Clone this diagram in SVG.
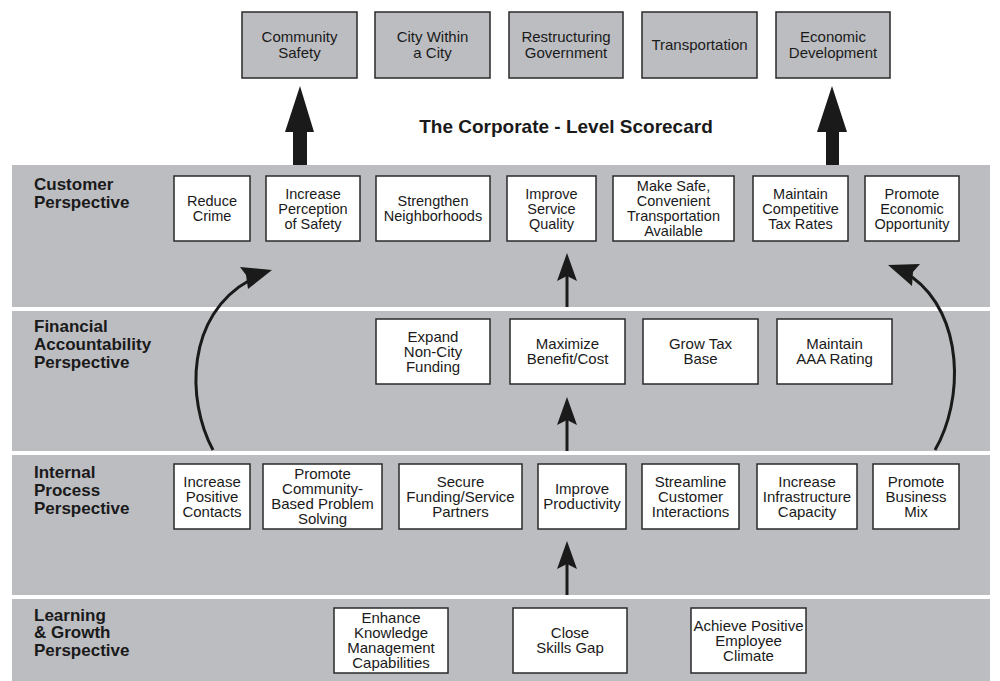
<svg xmlns="http://www.w3.org/2000/svg" width="1000" height="681" viewBox="0 0 1000 681">
<style>
.band{fill:#bcbdc1}
.box{fill:#fff;stroke:#2a2a2a;stroke-width:1.5}
.gbox{fill:#bcbdc1;stroke:#2a2a2a;stroke-width:1.5}
.t{font-family:"Liberation Sans",Arial,sans-serif;font-size:14.5px;fill:#1a1a1a;text-anchor:middle}
.t2{font-family:"Liberation Sans",Arial,sans-serif;font-size:15px;fill:#1a1a1a;text-anchor:middle}
.tt{font-family:"Liberation Sans",Arial,sans-serif;font-size:15px;fill:#1a1a1a;text-anchor:middle}
.lbl{font-family:"Liberation Sans",Arial,sans-serif;font-size:17px;font-weight:bold;fill:#1a1a1a}
.title{font-family:"Liberation Sans",Arial,sans-serif;font-size:19px;font-weight:bold;fill:#1a1a1a;text-anchor:middle}
.curve{fill:none;stroke:#1a1a1a;stroke-width:3}
.shaft{stroke:#1a1a1a;stroke-width:3}
.head{fill:#1a1a1a}
</style>
<rect width="1000" height="681" fill="#fff"/>
<g id="bands">
<rect class="band" x="12" y="165" width="978" height="142"/>
<rect class="band" x="12" y="311" width="978" height="140"/>
<rect class="band" x="12" y="455" width="978" height="140"/>
<rect class="band" x="12" y="599" width="978" height="82"/>
</g>
<g id="labels">
<text class="lbl" x="34"><tspan x="34" y="190">Customer</tspan><tspan x="34" y="208">Perspective</tspan></text>
<text class="lbl" x="34"><tspan x="34" y="332">Financial</tspan><tspan x="34" y="350">Accountability</tspan><tspan x="34" y="368">Perspective</tspan></text>
<text class="lbl" x="34"><tspan x="34" y="478">Internal</tspan><tspan x="34" y="496">Process</tspan><tspan x="34" y="514">Perspective</tspan></text>
<text class="lbl" x="34"><tspan x="34" y="621">Learning</tspan><tspan x="34" y="638">&amp; Growth</tspan><tspan x="34" y="656">Perspective</tspan></text>
</g>
<text class="title" x="566" y="133">The Corporate - Level Scorecard</text>
<g id="top-nodes">
<g id="n-community-safety"><rect class="gbox" x="242" y="12" width="115" height="66"/><text class="tt"><tspan x="299.5" y="42">Community</tspan><tspan x="299.5" y="58">Safety</tspan></text></g>
<g id="n-city-within"><rect class="gbox" x="375" y="12" width="115" height="66"/><text class="tt"><tspan x="432.5" y="42">City Within</tspan><tspan x="432.5" y="58">a City</tspan></text></g>
<g id="n-restructuring"><rect class="gbox" x="509" y="12" width="114" height="66"/><text class="tt"><tspan x="566" y="42">Restructuring</tspan><tspan x="566" y="58">Government</tspan></text></g>
<g id="n-transportation"><rect class="gbox" x="642" y="12" width="115" height="66"/><text class="tt" x="699.5" y="50">Transportation</text></g>
<g id="n-economic-dev"><rect class="gbox" x="776" y="12" width="114" height="66"/><text class="tt"><tspan x="833" y="42">Economic</tspan><tspan x="833" y="58">Development</tspan></text></g>
</g>
<g id="customer-nodes">
<g id="n-reduce-crime"><rect class="box" x="174" y="176" width="76" height="65"/><text class="t"><tspan x="212" y="206">Reduce</tspan><tspan x="212" y="221">Crime</tspan></text></g>
<g id="n-perception"><rect class="box" x="266" y="176" width="94" height="65"/><text class="t"><tspan x="313" y="198.5">Increase</tspan><tspan x="313" y="213.5">Perception</tspan><tspan x="313" y="228.5">of Safety</tspan></text></g>
<g id="n-neighborhoods"><rect class="box" x="376" y="176" width="114" height="65"/><text class="t"><tspan x="433" y="206">Strengthen</tspan><tspan x="433" y="221">Neighborhoods</tspan></text></g>
<g id="n-service-quality"><rect class="box" x="507" y="176" width="89" height="65"/><text class="t"><tspan x="551.5" y="198.5">Improve</tspan><tspan x="551.5" y="213.5">Service</tspan><tspan x="551.5" y="228.5">Quality</tspan></text></g>
<g id="n-transport"><rect class="box" x="613" y="176" width="121" height="65"/><text class="t"><tspan x="673.5" y="191">Make Safe,</tspan><tspan x="673.5" y="206">Convenient</tspan><tspan x="673.5" y="221">Transportation</tspan><tspan x="673.5" y="236">Available</tspan></text></g>
<g id="n-tax-rates"><rect class="box" x="753" y="176" width="95" height="65"/><text class="t"><tspan x="800.5" y="198.5">Maintain</tspan><tspan x="800.5" y="213.5">Competitive</tspan><tspan x="800.5" y="228.5">Tax Rates</tspan></text></g>
<g id="n-econ-opp"><rect class="box" x="865" y="176" width="94" height="65"/><text class="t"><tspan x="912" y="198.5">Promote</tspan><tspan x="912" y="213.5">Economic</tspan><tspan x="912" y="228.5">Opportunity</tspan></text></g>
</g>
<g id="financial-nodes">
<g id="n-expand"><rect class="box" x="376" y="319" width="114" height="65"/><text class="t2"><tspan x="433" y="341.5">Expand</tspan><tspan x="433" y="356.5">Non-City</tspan><tspan x="433" y="371.5">Funding</tspan></text></g>
<g id="n-maximize"><rect class="box" x="510" y="319" width="115" height="65"/><text class="t2"><tspan x="567.5" y="349">Maximize</tspan><tspan x="567.5" y="364">Benefit/Cost</tspan></text></g>
<g id="n-grow-tax"><rect class="box" x="643" y="319" width="115" height="65"/><text class="t2"><tspan x="700.5" y="349">Grow Tax</tspan><tspan x="700.5" y="364">Base</tspan></text></g>
<g id="n-aaa"><rect class="box" x="777" y="319" width="115" height="65"/><text class="t2"><tspan x="834.5" y="349">Maintain</tspan><tspan x="834.5" y="364">AAA Rating</tspan></text></g>
</g>
<g id="internal-nodes">
<g id="n-contacts"><rect class="box" x="174" y="464" width="76" height="65"/><text class="t2"><tspan x="212" y="486.5">Increase</tspan><tspan x="212" y="501.5">Positive</tspan><tspan x="212" y="516.5">Contacts</tspan></text></g>
<g id="n-problem-solving"><rect class="box" x="263" y="464" width="119" height="65"/><text class="t2"><tspan x="322.5" y="479">Promote</tspan><tspan x="322.5" y="494">Community-</tspan><tspan x="322.5" y="509">Based Problem</tspan><tspan x="322.5" y="524">Solving</tspan></text></g>
<g id="n-partners"><rect class="box" x="399" y="464" width="123" height="65"/><text class="t2"><tspan x="460.5" y="486.5">Secure</tspan><tspan x="460.5" y="501.5">Funding/Service</tspan><tspan x="460.5" y="516.5">Partners</tspan></text></g>
<g id="n-productivity"><rect class="box" x="538" y="464" width="88" height="65"/><text class="t2"><tspan x="582" y="494">Improve</tspan><tspan x="582" y="509">Productivity</tspan></text></g>
<g id="n-streamline"><rect class="box" x="642" y="464" width="97" height="65"/><text class="t2"><tspan x="690.5" y="486.5">Streamline</tspan><tspan x="690.5" y="501.5">Customer</tspan><tspan x="690.5" y="516.5">Interactions</tspan></text></g>
<g id="n-infrastructure"><rect class="box" x="757" y="464" width="100" height="65"/><text class="t2"><tspan x="807" y="486.5">Increase</tspan><tspan x="807" y="501.5">Infrastructure</tspan><tspan x="807" y="516.5">Capacity</tspan></text></g>
<g id="n-business-mix"><rect class="box" x="873" y="464" width="86" height="65"/><text class="t2"><tspan x="916" y="486.5">Promote</tspan><tspan x="916" y="501.5">Business</tspan><tspan x="916" y="516.5">Mix</tspan></text></g>
</g>
<g id="learning-nodes">
<g id="n-knowledge"><rect class="box" x="334" y="608" width="114" height="65"/><text class="t2"><tspan x="391" y="623">Enhance</tspan><tspan x="391" y="638">Knowledge</tspan><tspan x="391" y="653">Management</tspan><tspan x="391" y="668">Capabilities</tspan></text></g>
<g id="n-skills"><rect class="box" x="513" y="608" width="114" height="65"/><text class="t2"><tspan x="570" y="638">Close</tspan><tspan x="570" y="653">Skills Gap</tspan></text></g>
<g id="n-climate"><rect class="box" x="691" y="608" width="115" height="65"/><text class="t2"><tspan x="748.5" y="630.5">Achieve Positive</tspan><tspan x="748.5" y="645.5">Employee</tspan><tspan x="748.5" y="660.5">Climate</tspan></text></g>
</g>
<g id="connectors">
<polygon class="head" points="300,86 314,132 307,132 307,165 293,165 293,132 285,132"/>
<polygon class="head" points="832,86 847,132 839,132 839,165 826,165 826,132 817,132"/>
<line class="shaft" x1="567" y1="307" x2="567" y2="272"/>
<polygon class="head" points="567,253 577,281 567,276 557,281"/>
<line class="shaft" x1="567" y1="451" x2="567" y2="416"/>
<polygon class="head" points="567,397 577,425 567,420 557,425"/>
<line class="shaft" x1="567" y1="595" x2="567" y2="560"/>
<polygon class="head" points="567,541 577,569 567,564 557,569"/>
<path class="curve" d="M213,450 C186,400 186,315 250,280"/>
<polygon class="head" points="272,270 240,267 246,275 248,289"/>
<path class="curve" d="M935,450 C964,400 964,315 912,277"/>
<polygon class="head" points="888,265 920,264 913,272 912,286"/>
</g>
</svg>
